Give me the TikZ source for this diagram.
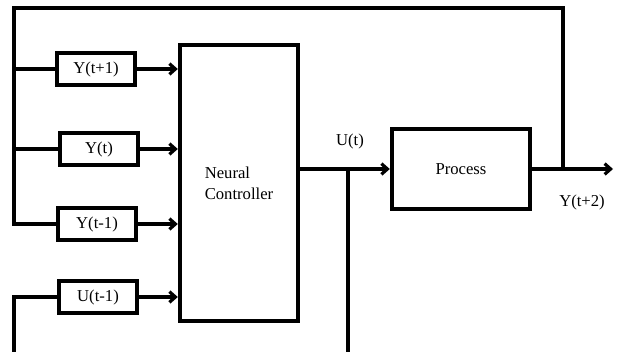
\documentclass[tikz,border=0pt]{standalone}
\usepackage{fontspec}
\setmainfont{Liberation Serif}
\usetikzlibrary{arrows.meta,positioning}

\begin{document}
\begin{tikzpicture}[x=0.75pt, y=-0.75pt, >={Straight Barb[length=4.5pt,width=8pt]},
    line width=2.4pt,
    font=\fontsize{12.5}{15.5}\selectfont,
    blk/.style={draw, line width=2.8pt, inner sep=0pt,
                minimum width=59pt, minimum height=24pt}]
  \useasboundingbox (0,0) rectangle (620,352);
  % delayed signals
  \node[blk] (yp1) at (96,69)  {Y(t+1)};
  \node[blk] (y0)  at (99,149) {Y(t)};
  \node[blk] (ym1) at (97,224) {Y(t-1)};
  \node[blk] (um1) at (98,297) {U(t-1)};
  % controller and plant
  \node[blk, minimum width=89pt, minimum height=207pt, align=left]
       (nc) at (239,183) {Neural\\Controller};
  \node[blk, minimum width=104pt, minimum height=60pt]
       (proc) at (461,169) {Process};
  \coordinate (tl)  at (14,8);
  \coordinate (bl)  at (14,352);
  \coordinate (fb)  at (563,169);
  \coordinate (out) at (613,169);
  \coordinate (br)  at (348,352);
  % inputs
  \draw[->] (yp1) -- (yp1 -| nc.west);
  \draw[->] (y0)  -- (y0 -| nc.west);
  \draw[->] (ym1) -- (ym1 -| nc.west);
  \draw[->] (um1) -- (um1 -| nc.west);
  % forward path
  \draw[->] (nc.east |- proc.west) -- (proc.west);
  \draw[->] (proc.east) -- (out);
  \draw (br) -- (br |- proc.west);
  % feedback
  \draw (fb) |- (tl) -- (tl |- ym1) -- (ym1.west);
  \draw (tl |- yp1) -- (yp1.west);
  \draw (tl |- y0) -- (y0.west);
  \draw (bl) |- (um1.west);
  % labels
  \node (ut)  at (350,141) {U(t)};
  \node (yt2) at (582,202) {Y(t+2)};
\end{tikzpicture}
\end{document}
